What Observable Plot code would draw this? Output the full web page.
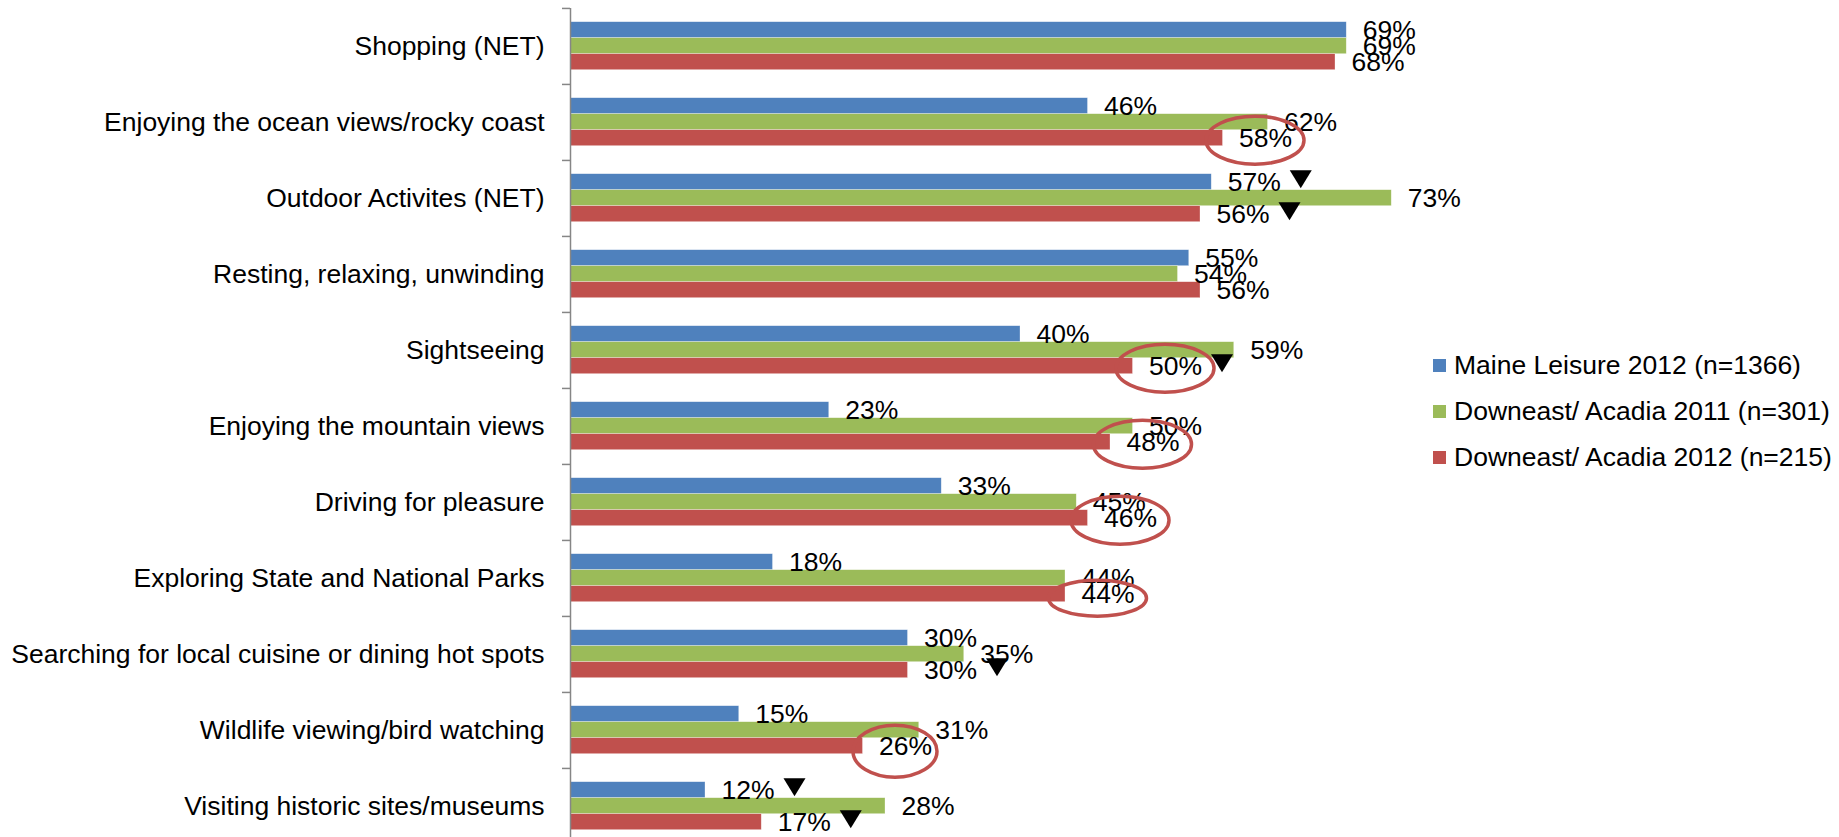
<!DOCTYPE html>
<html>
<head>
<meta charset="utf-8">
<script src="https://cdn.jsdelivr.net/npm/d3@7"></script>
<script src="https://cdn.jsdelivr.net/npm/@observablehq/plot@0.6"></script>
<style>
  html, body { margin: 0; padding: 0; background: #fff; overflow: hidden; width: 1839px; height: 837px; }
  #wrap { position: relative; width: 1839px; height: 837px; font-family: "Liberation Sans", Arial, sans-serif; }
  #chart { position: absolute; left: 0; top: 0; }
  #legend { position: absolute; left: 1433px; top: 342px; font-size: 26.5px; color: #000; }
  #legend .item { height: 46px; line-height: 46px; white-space: nowrap; display: flex; align-items: center; }
  #legend .sw { width: 13px; height: 13px; margin-right: 8px; flex: none; }
</style>
</head>
<body>
<div id="wrap">
  <div id="chart"></div>
  <div id="legend"></div>
</div>
<script>
const categories = [
  "Shopping (NET)",
  "Enjoying the ocean views/rocky coast",
  "Outdoor Activites (NET)",
  "Resting, relaxing, unwinding",
  "Sightseeing",
  "Enjoying the mountain views",
  "Driving for pleasure",
  "Exploring State and National Parks",
  "Searching for local cuisine or dining hot spots",
  "Wildlife viewing/bird watching",
  "Visiting historic sites/museums"
];
const seriesNames = [
  "Maine Leisure 2012 (n=1366)",
  "Downeast/ Acadia 2011 (n=301)",
  "Downeast/ Acadia 2012 (n=215)"
];
const maine2012    = [69, 46, 57, 55, 40, 23, 33, 18, 30, 15, 12];
const downeast2011 = [69, 62, 73, 54, 59, 50, 45, 44, 35, 31, 28];
const downeast2012 = [68, 58, 56, 56, 50, 48, 46, 44, 30, 26, 17];
const seriesColors = ["#4F81BD", "#9BBB59", "#C0504D"];

// annotations: which bars carry a down-triangle, which red labels are circled
const triangleMarks = [
  ["Outdoor Activites (NET)", 0],
  ["Outdoor Activites (NET)", 2],
  ["Sightseeing", 2],
  ["Searching for local cuisine or dining hot spots", 2],
  ["Visiting historic sites/museums", 0],
  ["Visiting historic sites/museums", 2]
];
const circledMarks = [
  ["Enjoying the ocean views/rocky coast", 2],
  ["Sightseeing", 2],
  ["Enjoying the mountain views", 2],
  ["Driving for pleasure", 2],
  ["Exploring State and National Parks", 2],
  ["Wildlife viewing/bird watching", 2]
];

const allSeries = [maine2012, downeast2011, downeast2012];
const rows = [];
categories.forEach((c, i) => {
  allSeries.forEach((vals, s) => rows.push({category: c, series: seriesNames[s], value: vals[i]}));
});
const lookup = ([c, s]) => rows.find(r => r.category === c && r.series === seriesNames[s]);
const triRows = triangleMarks.map(lookup);
const circRows = circledMarks.map(lookup);

const downTriangle = {
  draw(ctx) {
    ctx.moveTo(-11, -9); ctx.lineTo(11, -9); ctx.lineTo(0, 9); ctx.closePath();
  }
};
function ellipseSymbol(rx, ry) {
  return {
    draw(ctx) {
      const k = 0.5523;
      ctx.moveTo(rx, 0);
      ctx.bezierCurveTo(rx, ry * k, rx * k, ry, 0, ry);
      ctx.bezierCurveTo(-rx * k, ry, -rx, ry * k, -rx, 0);
      ctx.bezierCurveTo(-rx, -ry * k, -rx * k, -ry, 0, -ry);
      ctx.bezierCurveTo(rx * k, -ry, rx, -ry * k, rx, 0);
      ctx.closePath();
    }
  };
}
// hand-drawn ellipse shapes differ slightly (style only)
const ellipseStyle = {
  "Exploring State and National Parks": {rx: 49, ry: 18, dy: 4},
  "Wildlife viewing/bird watching": {rx: 42, ry: 26, dy: 5}
};
const defaultEllipse = {rx: 49, ry: 24, dy: 2};
const circMarks = circRows.map(r => {
  const st = ellipseStyle[r.category] || defaultEllipse;
  return Plot.dot([r], {fy: "category", y: "series", x: "value", symbol: ellipseSymbol(st.rx, st.ry), r: 10,
    dx: 32, dy: st.dy, fill: "none", stroke: "#C0504D", strokeWidth: 3.5});
});

const FONT = 26.5;
const chart = Plot.plot({
  width: 1839,
  height: 844,
  marginLeft: 570,
  marginRight: 369,
  marginTop: 7.3,
  marginBottom: 0,
  style: {fontFamily: "'Liberation Sans', Arial, sans-serif", background: "white", overflow: "visible"},
  x: {domain: [0, 80], axis: null},
  y: {domain: seriesNames, paddingInner: 0, paddingOuter: 0.8, axis: null},
  fy: {domain: categories, paddingInner: 0, paddingOuter: 0, label: null},
  color: {domain: seriesNames, range: seriesColors},
  marks: [
    Plot.barX(rows, {fy: "category", y: "series", x: "value", fill: "series",
      stroke: "white", strokeWidth: 0.6, strokeOpacity: 0.5}),
    Plot.ruleX([0], {stroke: "#868686", strokeWidth: 1.5}),
    Plot.text(rows, {fy: "category", y: "series", x: "value", text: d => d.value + "%",
      textAnchor: "start", dx: 16, fontSize: FONT, fill: "black"}),
    ...circMarks,
    Plot.dot(triRows, {fy: "category", y: "series", x: "value", symbol: downTriangle, r: 10,
      dx: 89, dy: -3, fill: "black", stroke: "none"}),
    Plot.axisFy({anchor: "left", tickSize: 0, tickPadding: 26, fontSize: FONT, label: null, fill: "black"}),
    Plot.axisFy({anchor: "left", tickSize: 8, text: null, label: null, dy: -38.06, stroke: "#868686", strokeWidth: 1.5})
  ]
});
document.getElementById("chart").appendChild(chart);

const legend = document.getElementById("legend");
seriesNames.forEach((name, i) => {
  const item = document.createElement("div");
  item.className = "item";
  const sw = document.createElement("span");
  sw.className = "sw";
  sw.style.background = seriesColors[i];
  const t = document.createElement("span");
  t.textContent = name;
  item.appendChild(sw);
  item.appendChild(t);
  legend.appendChild(item);
});
</script>
</body>
</html>
